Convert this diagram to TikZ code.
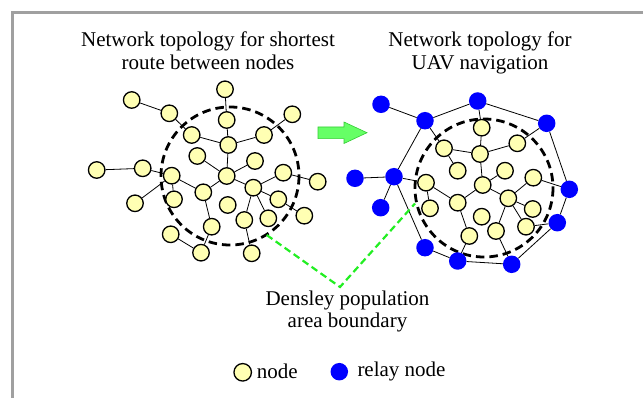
\documentclass[tikz,border=0pt]{standalone}
\usepackage{fontspec}
\setmainfont{Liberation Serif}
\definecolor{nodeyellow}{HTML}{FFFFB3}
\definecolor{relayblue}{HTML}{0000FF}
\definecolor{framegray}{HTML}{A0A0A0}
\definecolor{boundgreen}{HTML}{22EE22}
\definecolor{arrowgreen}{HTML}{66FF66}
\definecolor{arrowedge}{HTML}{33CC33}
\tikzset{
  ynode/.style={circle, draw=black, line width=1.3pt, fill=nodeyellow, minimum size=16.5pt, inner sep=0pt},
  bnode/.style={circle, fill=relayblue, minimum size=17.5pt, inner sep=0pt},
  edge/.style={draw=black, line width=0.8pt},
  area/.style={draw=black, line width=2.8pt, dash pattern=on 8.5pt off 5pt},
  bound/.style={draw=boundgreen, line width=2.2pt, dash pattern=on 7pt off 4pt},
  label/.style={font=\fontsize{21}{22.5}\selectfont, align=center, inner sep=0pt},
}
\begin{document}
\begin{tikzpicture}[x=1pt,y=-1pt]
\useasboundingbox (0,0) rectangle (643,398);
% frame
\draw[framegray, line width=3pt] (12.5,398) -- (12.5,12.5) -- (643,12.5);

% titles
\node[label, anchor=north] (t1) at (208,32) {Network topology for shortest\\route between nodes};
\node[label, anchor=north] (t2) at (480,32) {Network topology for\\UAV navigation};

% dashed area boundaries
\draw[area] (230,176) circle[radius=69];
\draw[area] (484,188) circle[radius=69];

% green arrow
\filldraw[fill=arrowgreen, draw=arrowedge, line width=0.6pt]
  (318,127) -- (344,127) -- (344,122) -- (367,132.7) -- (344,143.5) -- (344,138.7) -- (318,138.7) -- cycle;

% left network
\node[ynode] (a1) at (131.7,100) {};
\node[ynode] (a2) at (169.3,113.3) {};
\node[ynode] (a3) at (225,89.3) {};
\node[ynode] (a4) at (226.7,120) {};
\node[ynode] (a5) at (191.7,135) {};
\node[ynode] (a6) at (228.3,145) {};
\node[ynode] (a7) at (264,135) {};
\node[ynode] (a8) at (292.3,114.3) {};
\node[ynode] (a9) at (197.3,156) {};
\node[ynode] (a10) at (255,161) {};
\node[ynode] (a11) at (96.7,170) {};
\node[ynode] (a12) at (142.7,168.3) {};
\node[ynode] (a13) at (171.7,175.7) {};
\node[ynode] (a14) at (226.7,176) {};
\node[ynode] (a15) at (283.3,172.7) {};
\node[ynode] (a16) at (317.7,181.7) {};
\node[ynode] (a17) at (203.3,192.3) {};
\node[ynode] (a18) at (253.3,187.7) {};
\node[ynode] (a19) at (174,199.3) {};
\node[ynode] (a20) at (135,203.3) {};
\node[ynode] (a21) at (227.7,205) {};
\node[ynode] (a22) at (278.3,199.3) {};
\node[ynode] (a23) at (304.3,215.7) {};
\node[ynode] (a24) at (211.7,226.7) {};
\node[ynode] (a25) at (244.3,220) {};
\node[ynode] (a26) at (268.3,218.3) {};
\node[ynode] (a27) at (170.7,234.3) {};
\node[ynode] (a28) at (201,252.7) {};
\node[ynode] (a29) at (251.7,253.3) {};

\foreach \u/\v in {a1/a2,a2/a5,a3/a4,a4/a6,a5/a6,a6/a7,a7/a8,a6/a14,a9/a14,a10/a14,
  a11/a12,a12/a13,a13/a20,a13/a19,a13/a17,a17/a14,a17/a24,a24/a28,a27/a28,a14/a18,
  a18/a15,a18/a25,a18/a26,a18/a22,a22/a23,a15/a16,a25/a29}
  \draw[edge] (\u) -- (\v);

% right network: relay nodes
\node[bnode] (r1) at (381,104.3) {};
\node[bnode] (r2) at (425,120.7) {};
\node[bnode] (r3) at (477.7,101) {};
\node[bnode] (r4) at (546.7,123.3) {};
\node[bnode] (r5) at (355,178.3) {};
\node[bnode] (r6) at (394,176.7) {};
\node[bnode] (r7) at (380.7,207.7) {};
\node[bnode] (r8) at (569.3,189.3) {};
\node[bnode] (r9) at (557.3,222.7) {};
\node[bnode] (r10) at (425,247.7) {};
\node[bnode] (r11) at (457.7,261) {};
\node[bnode] (r12) at (511.7,264.3) {};
% right network: nodes
\node[ynode] (b1) at (481.7,127.7) {};
\node[ynode] (b2) at (444,148.3) {};
\node[ynode] (b3) at (480,154) {};
\node[ynode] (b4) at (517.3,143.3) {};
\node[ynode] (b5) at (457.7,170.7) {};
\node[ynode] (b6) at (505,170.7) {};
\node[ynode] (b7) at (426,182.7) {};
\node[ynode] (b8) at (482.7,185) {};
\node[ynode] (b9) at (533.3,177.7) {};
\node[ynode] (b10) at (457.7,202.7) {};
\node[ynode] (b11) at (508.3,198.3) {};
\node[ynode] (b12) at (430,208.3) {};
\node[ynode] (b13) at (481.7,216.7) {};
\node[ynode] (b14) at (532.7,209) {};
\node[ynode] (b15) at (496,231) {};
\node[ynode] (b16) at (526,226.7) {};
\node[ynode] (b17) at (469.3,236) {};

\foreach \u/\v in {r1/r2,r2/r3,r3/r4,r4/r8,r8/r9,r9/r12,r12/r11,r11/r10,r10/r6,r6/r2,
  r5/r6,r6/r7,r6/b7,r2/b2,r3/b1,b1/b3,b2/b3,b3/b4,b4/r4,b3/b8,b2/b5,b6/b8,b7/b10,
  b7/b12,b8/b10,b8/b11,b10/b17,b11/b9,b11/b15,b11/b14,b11/b16,b16/r9,b15/r12,b17/r11,b9/r8}
  \draw[edge] (\u) -- (\v);

% boundary callout
\coordinate (g1) at (266.7,235);
\coordinate (gv) at (340,287);
\coordinate (g2) at (415,203.5);
\draw[bound] (g1) -- (gv) -- (g2);
\node[label, anchor=north] (dens) at (347.5,290.5) {Densley population\\area boundary};

% legend
\node[ynode, minimum size=17.5pt] (lgy) at (242.7,372.3) {};
\node[label, anchor=base west] (lgyt) at (256.7,378) {node};
\node[bnode] (lgb) at (339.3,371.7) {};
\node[label, anchor=base west] (lgbt) at (357.3,376.5) {relay node};
\end{tikzpicture}
\end{document}
